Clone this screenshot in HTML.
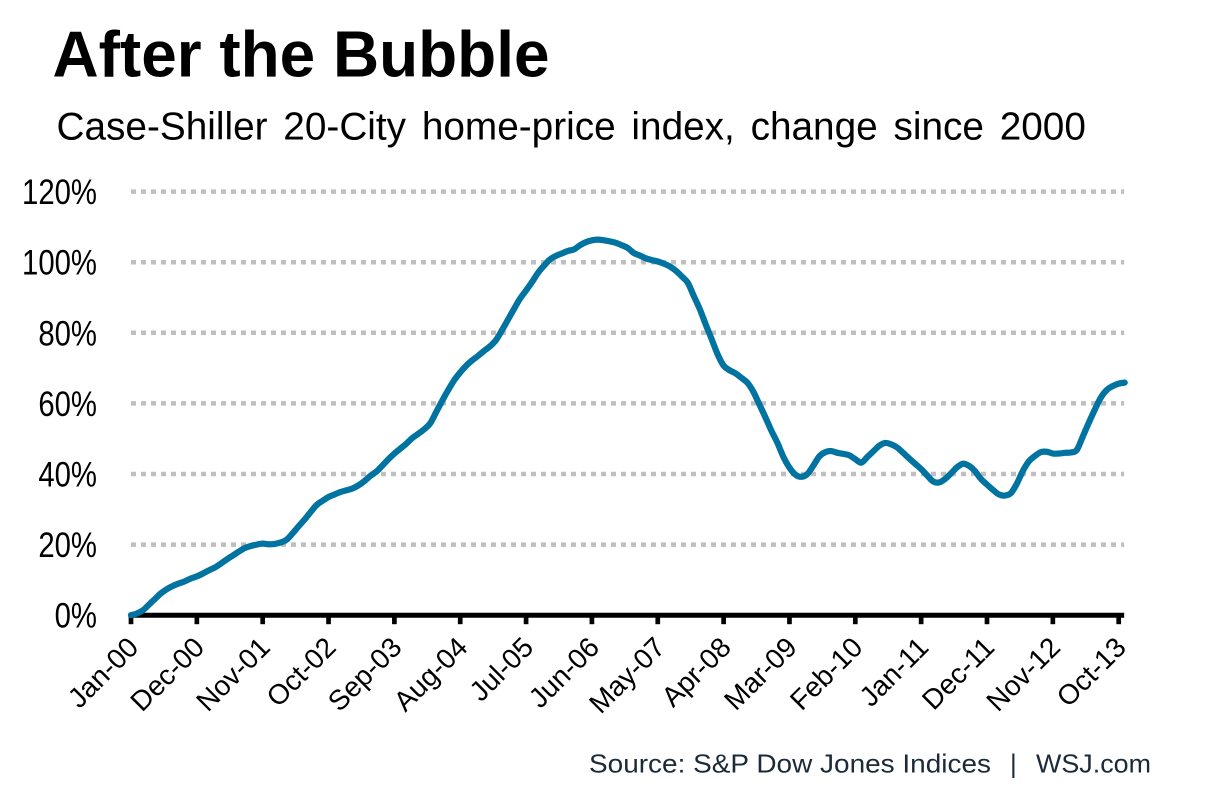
<!DOCTYPE html>
<html lang="en">
<head>
<meta charset="utf-8">
<title>After the Bubble</title>
<style>
  html, body { margin: 0; padding: 0; background: #fff; }
  body { width: 1205px; height: 802px; overflow: hidden; }
  svg { display: block; }
  text { font-family: "Liberation Sans", Arial, sans-serif; fill: #000; }
  .src { fill: #1a2a38; font-size: 26px; }
</style>
</head>
<body>
<svg id="chart" width="1205" height="802" viewBox="0 0 1205 802" xmlns="http://www.w3.org/2000/svg">
  <text x="52.5" y="76.5" font-size="65" font-weight="700" textLength="497" lengthAdjust="spacingAndGlyphs">After the Bubble</text>
  <text x="56.5" y="139.5" font-size="38.75" word-spacing="5">Case-Shiller 20-City home-price index, change since 2000</text>
  <g id="grid"></g>
  <g id="yTicks"></g>
  <g id="xAxis"></g>
  <g id="series"></g>
  <g>
    <text class="src" x="589" y="772.5" textLength="402" lengthAdjust="spacingAndGlyphs">Source: S&amp;P Dow Jones Indices</text>
    <text class="src" x="1010" y="772.5">|</text>
    <text class="src" x="1036" y="772.5" textLength="115" lengthAdjust="spacingAndGlyphs">WSJ.com</text>
  </g>
</svg>
<script>
const yTickValues = [0, 20, 40, 60, 80, 100, 120];
const xTickLabels = ["Jan-00","Dec-00","Nov-01","Oct-02","Sep-03","Aug-04","Jul-05","Jun-06","May-07","Apr-08","Mar-09","Feb-10","Jan-11","Dec-11","Nov-12","Oct-13"];
const monthsPerTick = 11;
const indexValues = [
  0.0,0.5,1.4,3.0,4.6,6.2,7.4,8.3,9.0,9.6,10.4,11.0,
  11.8,12.7,13.5,14.6,15.8,16.9,18.0,19.0,19.6,20.0,20.3,20.1,
  20.2,20.6,21.4,23.2,25.2,27.1,29.2,31.2,32.4,33.5,34.2,34.9,
  35.4,35.9,36.8,38.0,39.5,40.7,42.4,44.2,45.8,47.2,48.6,50.2,
  51.4,52.7,54.4,57.6,60.8,63.8,66.6,68.8,70.7,72.2,73.5,74.9,
  76.2,78.0,80.8,83.8,86.8,89.7,92.0,94.4,97.0,99.0,100.8,101.8,
  102.5,103.2,103.6,104.8,105.7,106.2,106.4,106.2,105.9,105.5,104.8,104.0,
  102.6,101.9,101.1,100.6,100.2,99.6,98.8,97.6,96.0,94.2,90.5,86.8,
  82.4,78.2,73.9,70.7,69.4,68.5,67.2,65.8,63.2,59.6,56.0,52.2,
  48.8,44.8,41.8,39.8,39.2,40.0,42.4,45.0,46.2,46.5,46.0,45.7,
  45.3,44.2,43.2,44.8,46.4,48.0,48.8,48.4,47.5,46.0,44.4,42.9,
  41.4,39.6,37.9,37.6,38.6,40.2,41.9,42.9,42.3,40.8,38.6,37.0,
  35.5,34.2,33.9,34.6,37.3,40.9,43.6,45.1,46.2,46.3,45.8,45.8,
  46.0,46.1,46.8,50.6,54.5,58.2,61.6,63.8,64.9,65.6,65.9
];

const NS = "http://www.w3.org/2000/svg";
const xLeft = 131, xPerMonth = 5.986;
const yZero = 615.2, yPerPoint = 3.53;
function xScale(m) { return xLeft + m * xPerMonth; }
function yScale(v) { return yZero - v * yPerPoint; }
function mk(tag, parent, attrs) {
  const el = document.createElementNS(NS, tag);
  for (const k in attrs) el.setAttribute(k, attrs[k]);
  parent.appendChild(el);
  return el;
}
const xRight = xScale(indexValues.length - 1) - 0.5;
const grid = document.getElementById("grid");
const yTicks = document.getElementById("yTicks");
const xAxis = document.getElementById("xAxis");
const seriesLayer = document.getElementById("series");

yTickValues.forEach(function (v) {
  if (v > 0) {
    const line = mk("line", grid, { x1: xLeft, x2: xRight, y1: yScale(v), y2: yScale(v), stroke: "#bfbfbf", "stroke-width": 4.5, "stroke-dasharray": "5 5" });
    
    
  }
  const label = mk("text", yTicks, { "text-anchor": "end", "font-size": 35.5, transform: "translate(97," + (yScale(v) + 12.5) + ") scale(0.826,1)" });
  label.textContent = v + "%";
  
  
});

const axisLine = mk("line", xAxis, { x1: xLeft - 2.5, x2: xRight, y1: yZero, y2: yZero, stroke: "#000", "stroke-width": 5 });



xTickLabels.forEach(function (name, i) {
  const x = xScale(i * monthsPerTick);
  const tick = mk("line", xAxis, { x1: x, x2: x, y1: yZero, y2: yZero + 9, stroke: "#000", "stroke-width": 4.7 });
  
  
  const label = mk("text", xAxis, { "text-anchor": "end", "font-size": 28, transform: "translate(" + (x + 9) + ",649) rotate(-45)" });
  label.textContent = name;
  
  
});

const pts = indexValues.map(function (v, m) { return [xScale(m), yScale(v)]; });
let linePath = "M" + pts[0][0].toFixed(2) + " " + pts[0][1].toFixed(2);
for (let i = 0; i < pts.length - 1; i++) {
  const p0 = pts[Math.max(i - 1, 0)], p1 = pts[i], p2 = pts[i + 1], p3 = pts[Math.min(i + 2, pts.length - 1)];
  linePath += " C" + (p1[0] + (p2[0] - p0[0]) / 6).toFixed(2) + " " + (p1[1] + (p2[1] - p0[1]) / 6).toFixed(2) +
    " " + (p2[0] - (p3[0] - p1[0]) / 6).toFixed(2) + " " + (p2[1] - (p3[1] - p1[1]) / 6).toFixed(2) +
    " " + p2[0].toFixed(2) + " " + p2[1].toFixed(2);
}
const seriesLine = mk("path", seriesLayer, { d: linePath, fill: "none", stroke: "#0073a0", "stroke-width": 6.2, "stroke-linejoin": "round", "stroke-linecap": "round" });


</script>
</body>
</html>
